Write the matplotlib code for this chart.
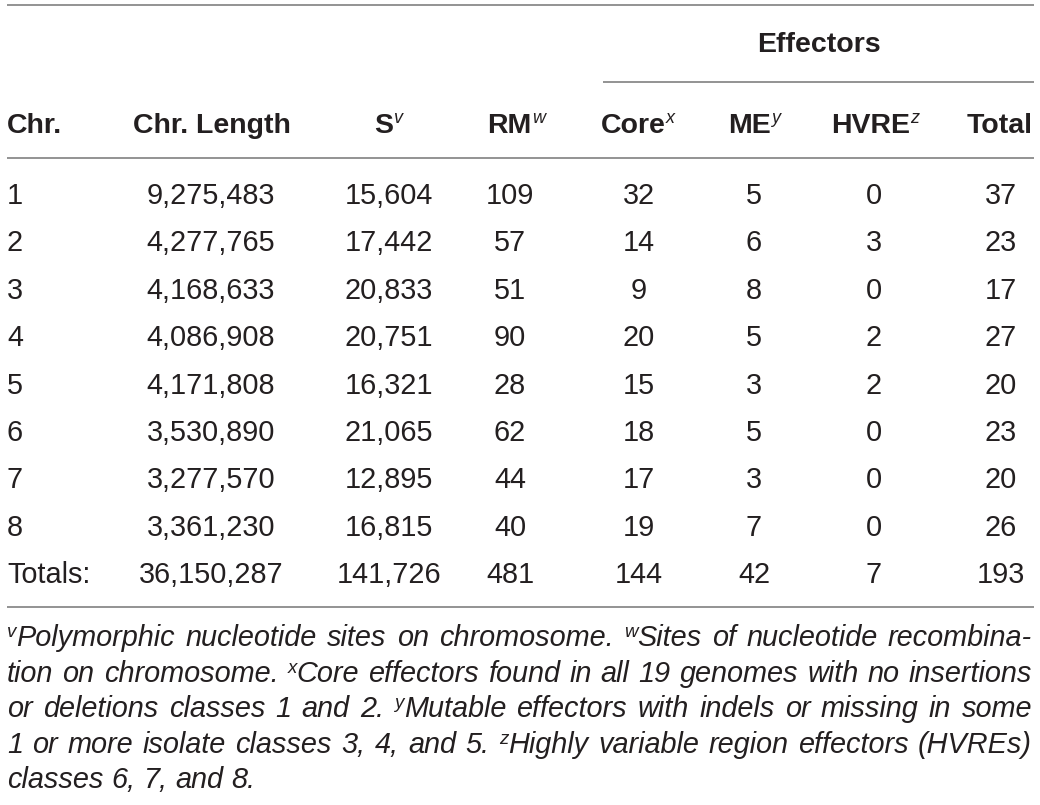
import matplotlib.pyplot as plt

plt.rcParams['font.family'] = ['Liberation Sans', 'DejaVu Sans']

# table data
chrom = ['1', '2', '3', '4', '5', '6', '7', '8']
chr_length = [9275483, 4277765, 4168633, 4086908, 4171808, 3530890, 3277570, 3361230]
s_sites = [15604, 17442, 20833, 20751, 16321, 21065, 12895, 16815]
rm_sites = [109, 57, 51, 90, 28, 62, 44, 40]
core = [32, 14, 9, 20, 15, 18, 17, 19]
me = [5, 6, 8, 5, 3, 5, 3, 7]
hvre = [0, 3, 0, 2, 2, 0, 0, 0]
total = [37, 23, 17, 27, 20, 23, 20, 26]

headers = [('Chr.', ''), ('Chr. Length', ''), ('S', 'v'), ('RM', 'w'),
           ('Core', 'x'), ('ME', 'y'), ('HVRE', 'z'), ('Total', '')]

footnote = [
    "^vPolymorphic nucleotide sites on chromosome. ^wSites of nucleotide recombina-",
    "tion on chromosome. ^xCore effectors found in all 19 genomes with no insertions",
    "or deletions classes 1 and 2. ^yMutable effectors with indels or missing in some",
    "1 or more isolate classes 3, 4, and 5. ^zHighly variable region effectors (HVREs)",
    "classes 6, 7, and 8.",
]

TXT = '#231f20'
LINE = '#8a8a8a'
LEFT, RIGHT = 7, 1034

styles = {
    'hb': dict(fontsize=20.5, fontweight='bold', raise_=0),
    'hs': dict(fontsize=13, fontstyle='italic', raise_=10),
    'd': dict(fontsize=20.8, raise_=0),
    'f': dict(fontsize=20.8, fontstyle='italic', raise_=0),
    'fs': dict(fontsize=13.5, fontstyle='italic', raise_=9),
}

fig = plt.figure(figsize=(10.4, 8.05), dpi=100)
ax = fig.add_axes([0, 0, 1, 1])
ax.set_xlim(0, 1040)
ax.set_ylim(805, 0)
ax.axis('off')
renderer = fig.canvas.get_renderer()


def kw(style):
    k = dict(styles[style])
    k.pop('raise_')
    return k


def width_of(s, style):
    t = ax.text(0, 0, s, **kw(style))
    w = t.get_window_extent(renderer).width
    t.remove()
    return w


def draw_runs(x, y, runs, ha='left'):
    widths = [width_of(s, st) for s, st in runs]
    tot = sum(widths)
    if ha == 'center':
        x = x - tot / 2
    elif ha == 'right':
        x = x - tot
    for (s, st), w in zip(runs, widths):
        ax.text(x, y - styles[st]['raise_'], s, ha='left', va='baseline',
                color=TXT, **kw(st))
        x += w
    return tot


def word_runs(word):
    if word.startswith('^'):
        return [(word[1], 'fs'), (word[2:], 'f')]
    return [(word, 'f')]


# rules
ax.hlines(5, LEFT, RIGHT, color=LINE, lw=1.3)
ax.hlines(82, 603, RIGHT, color=LINE, lw=1.3)
ax.hlines(158, LEFT, RIGHT, color=LINE, lw=1.3)
ax.hlines(607, LEFT, RIGHT, color=LINE, lw=1.3)

# header
draw_runs(819, 52, [('Effectors', 'hb')], ha='center')
head_x = [7, 212, 388, 516, 638, 754, 875, 1033]
head_ha = ['left', 'center', 'center', 'center', 'center', 'center', 'center', 'right']
for (main, sup), hx, ha in zip(headers, head_x, head_ha):
    runs = [(main, 'hb')]
    if sup:
        runs.append((sup, 'hs'))
    draw_runs(hx, 133, runs, ha=ha)

# body
cols = [chr_length, s_sites, rm_sites, core, me, hvre, total]
col_x = [211, 389, 510, 639, 754, 874, 1001]
row_y0, row_step = 204, 47.4
for i, c in enumerate(chrom):
    y = row_y0 + i * row_step
    draw_runs(LEFT, y, [(c, 'd')])
    for vals, cx in zip(cols, col_x):
        draw_runs(cx, y, [(f"{vals[i]:,}", 'd')], ha='center')

y = row_y0 + len(chrom) * row_step
draw_runs(LEFT, y, [('Totals:', 'd')])
for vals, cx in zip(cols, col_x):
    draw_runs(cx, y, [(f"{sum(vals):,}", 'd')], ha='center')

# footnote, justified except last line
space_w = width_of('n n', 'f') - width_of('nn', 'f')
fy0, fstep = 646, 35.5
for li, line in enumerate(footnote):
    words = [word_runs(w) for w in line.split(' ')]
    wws = [sum(width_of(s, st) for s, st in w) for w in words]
    if li < len(footnote) - 1:
        gap = (RIGHT - 2 - LEFT - sum(wws)) / (len(words) - 1)
    else:
        gap = space_w
    x = LEFT
    for w, ww in zip(words, wws):
        draw_runs(x, fy0 + li * fstep, w)
        x += ww + gap

fig.savefig('out.png', dpi=100, facecolor='white')
